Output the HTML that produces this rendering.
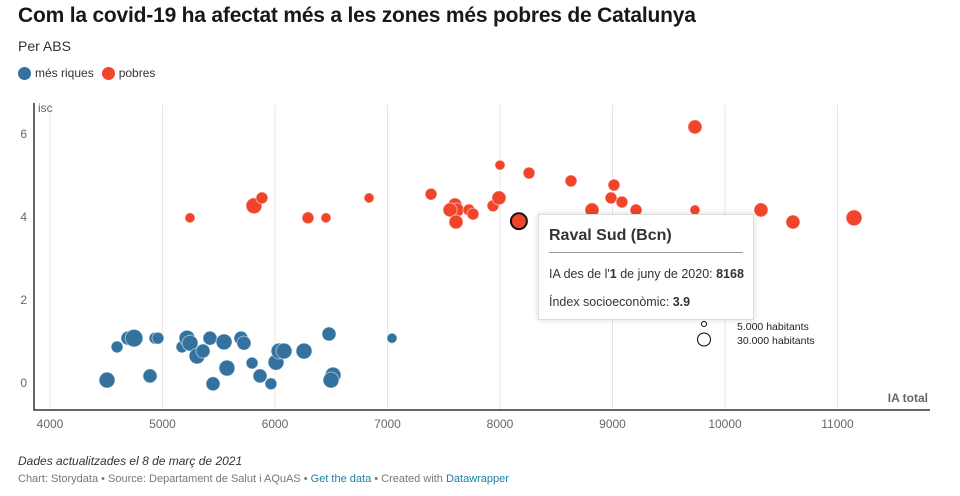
<!DOCTYPE html>
<html><head><meta charset="utf-8">
<style>
body{margin:0;background:#fff;font-family:"Liberation Sans",sans-serif;width:960px;height:496px;overflow:hidden;position:relative}
.title{position:absolute;left:18px;top:4px;font-size:21px;font-weight:bold;color:#181818;letter-spacing:-0.2px}
.sub{position:absolute;left:18px;top:38px;font-size:14px;color:#333}
.legend{position:absolute;left:18px;top:66px;font-size:12px;color:#333;display:flex;align-items:center}
.dot{display:inline-block;width:13px;height:13px;border-radius:50%;margin-right:4px}
.note{position:absolute;left:18px;top:454px;font-size:12px;font-style:italic;color:#333}
.src{position:absolute;left:18px;top:473px;font-size:11px;color:#777}
.src a{color:#1d81a2;text-decoration:none}
.tip{position:absolute;left:538px;top:214px;width:214px;height:104px;background:#fff;border:1px solid #ddd;box-shadow:0 0 6px rgba(0,0,0,.15)}
.tip .h{position:absolute;left:10px;top:12px;font-size:16px;font-weight:bold;color:#333}
.tip .line{position:absolute;left:10px;right:10px;top:37px;border-top:1px solid #999}
.tip .r{position:absolute;left:10px;font-size:12.5px;color:#333}
</style></head><body>
<div class="title">Com la covid-19 ha afectat més a les zones més pobres de Catalunya</div>
<div class="sub">Per ABS</div>
<div class="legend">
<span class="dot" style="background:#33729e"></span><span style="margin-right:8px">més riques</span>
<span class="dot" style="background:#f2432b"></span><span>pobres</span>
</div>
<svg id="chart" width="960" height="496" style="position:absolute;left:0;top:0"></svg>
<div class="tip">
<div class="h">Raval Sud (Bcn)</div><div class="line"></div>
<div class="r" style="top:52px">IA des de l'<b>1</b> de juny de 2020: <b>8168</b></div>
<div class="r" style="top:80px">Índex socioeconòmic: <b>3.9</b></div>
</div>
<div class="note">Dades actualitzades el 8 de març de 2021</div>
<div class="src">Chart: Storydata • Source: Departament de Salut i AQuAS • <a>Get the data</a> • Created with <a>Datawrapper</a></div>
<script>
const xTicks=[4000,5000,6000,7000,8000,9000,10000,11000];
const yTicks=[0,2,4,6];
const richIA=[4507,4596,4693,4747,4933,4960,4889,5173,5218,5245,5307,5360,5422,5449,5547,5573,5698,5724,5796,5867,5964,6009,6036,6080,6258,6480,6516,6498,7040];
const richISC=[0.07,0.87,1.08,1.08,1.08,1.08,0.17,0.87,1.08,0.96,0.65,0.77,1.08,-0.02,0.99,0.36,1.08,0.96,0.48,0.17,-0.02,0.5,0.77,0.77,0.77,1.18,0.19,0.07,1.08];
const richPop=[45000,25000,35000,55000,25000,25000,35000,25000,45000,45000,45000,35000,35000,35000,45000,45000,35000,35000,25000,35000,25000,45000,45000,45000,45000,35000,45000,45000,18000];
const poorIA=[5244,5813,5884,6293,6453,6836,7387,7600,7618,7556,7609,7724,7760,7938,7991,8000,8258,8631,9013,8987,9084,8818,9209,9733,9733,10320,10604,11147];
const poorISC=[3.98,4.27,4.46,3.98,3.98,4.46,4.55,4.29,4.17,4.17,3.88,4.17,4.07,4.27,4.46,5.25,5.06,4.87,4.77,4.46,4.36,4.17,4.17,6.17,4.17,4.17,3.88,3.98];
const poorPop=[18000,45000,25000,25000,18000,18000,25000,35000,35000,35000,35000,25000,25000,25000,35000,18000,25000,25000,25000,25000,25000,35000,25000,35000,18000,35000,35000,45000];
const hiIA=[8168], hiISC=[3.9], hiPop=[45000];
const NS='http://www.w3.org/2000/svg';
const svg=document.getElementById('chart');
const xs=v=>50+(v-4000)*0.1125;
const ys=v=>383-v*41.5;
const rs=p=>6.5*Math.sqrt(p/30000);
function mk(t,a,p){const e=document.createElementNS(NS,t);for(const k in a)e.setAttribute(k,a[k]);(p||svg).appendChild(e);return e;}
xTicks.forEach(t=>{
 const l=mk('line',{x1:xs(t),x2:xs(t),y1:105,y2:410,stroke:'#e6e6e6'});
 
 
 const tx=mk('text',{x:xs(t),y:428,'text-anchor':'middle','font-size':12,fill:'#666'});
 tx.textContent=t;
 
 
});
yTicks.forEach(t=>{
 const tx=mk('text',{x:27,y:ys(t)+4,'text-anchor':'end','font-size':12,fill:'#666'});
 tx.textContent=t;
 
 
});
const ax=mk('path',{d:'M34,103V410H930',fill:'none',stroke:'#333','stroke-width':1.5});


const yt=mk('text',{x:38,y:112,'font-size':12,fill:'#666'});yt.textContent='isc';


const xt=mk('text',{x:928,y:402,'text-anchor':'end','font-size':12,'font-weight':'bold',fill:'#666'});xt.textContent='IA total';


function series(X,Y,P,col,name,extra){
 X.forEach((v,i)=>{
  const c=mk('circle',Object.assign({cx:xs(v),cy:ys(Y[i]),r:rs(P[i]),fill:col,stroke:'rgba(255,255,255,0.5)','stroke-width':1},extra||{}));
  
  
 });
}
series(richIA,richISC,richPop,'#33729e','point-rich');
series(poorIA,poorISC,poorPop,'#f2432b','point-poor');
series(hiIA,hiISC,hiPop,'#f2432b','point-highlighted',{stroke:'#111','stroke-width':2});
const l1=mk('circle',{cx:704,cy:324,r:2.5,fill:'#fff',stroke:'#000'});


const l2=mk('circle',{cx:704,cy:339.5,r:6.5,fill:'#fff',stroke:'#000'});


const t1=mk('text',{x:737,y:330,'font-size':10.5,fill:'#222'});t1.textContent='5.000 habitants';


const t2=mk('text',{x:737,y:344,'font-size':10.5,fill:'#222'});t2.textContent='30.000 habitants';


</script>
</body></html>
